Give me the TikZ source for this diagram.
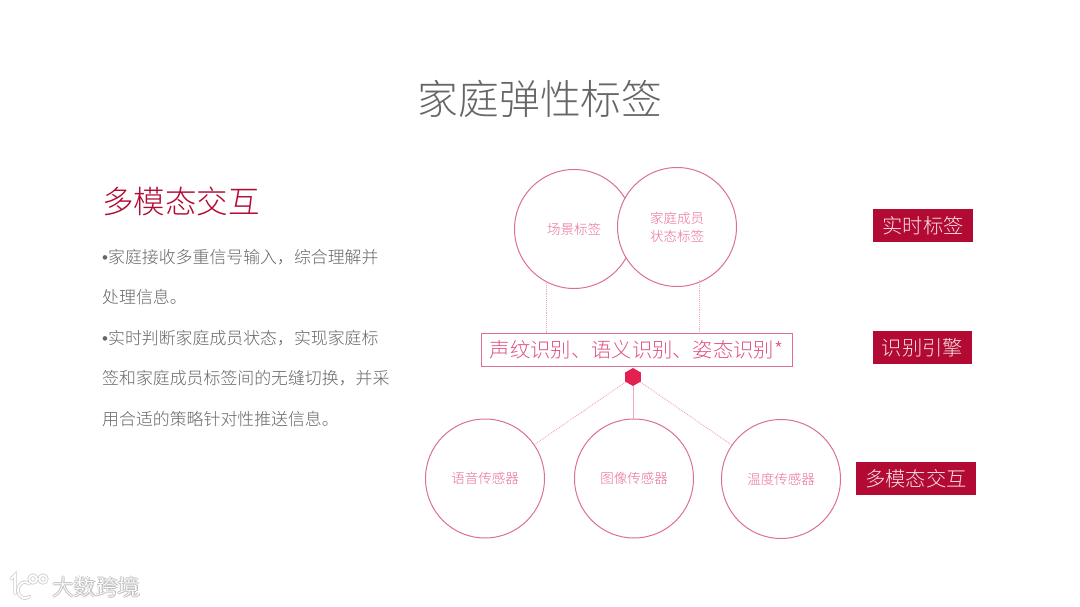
\documentclass[tikz,border=0pt]{standalone}
\usepackage{fontspec}
\setmainfont{Noto Sans CJK SC Light}
\newfontfamily\bulletfont{Liberation Sans}
\usetikzlibrary{shapes.geometric,calc}
\definecolor{crim}{HTML}{B20A33}
\definecolor{ringc}{HTML}{DB7093}
\definecolor{pinkt}{HTML}{EA6F94}
\definecolor{boxt}{HTML}{E0527F}
\definecolor{linkc}{HTML}{EFA8BE}
\definecolor{hexc}{HTML}{E3204F}
\definecolor{greyt}{HTML}{666666}
\definecolor{titlec}{HTML}{666666}
\newcommand{\bul}{{\bulletfont •}}
\tikzset{
 ring/.style={circle,draw=ringc,line width=1pt,fill=white,minimum size=119pt,inner sep=0pt,align=center,text=pinkt,font=\fontsize{13.5}{18}\selectfont},
 tag/.style={rectangle,fill=crim,text=white!88!crim,inner sep=0pt,font=\fontsize{20.3}{24}\selectfont},
 body/.style={anchor=west,inner sep=0pt,text=greyt,font=\fontsize{16.9}{20}\selectfont},
 link/.style={draw=linkc,line width=.9pt,densely dotted},
 solidlink/.style={draw=linkc,line width=1pt}
}
\begin{document}
\begin{tikzpicture}[x=1pt,y=-1pt]
\useasboundingbox (0,0) rectangle (1080,607);
\fill[white] (0,0) rectangle (1080,607);
\node[text=titlec,font=\fontsize{40.8}{48}\selectfont,inner sep=0pt] (title) at (540,98.5) {家庭弹性标签};
\node[anchor=west,inner sep=0pt,text=crim,font=\fontsize{31.5}{38}\selectfont] (head) at (102,201) {多模态交互};
\node[body] (l1) at (102,257) {\bul{}家庭接收多重信号输入，综合理解并};
\node[body] (l2) at (102,297) {处理信息。};
\node[body] (l3) at (102,338) {\bul{}实时判断家庭成员状态，实现家庭标};
\node[body] (l4) at (102,378) {签和家庭成员标签间的无缝切换，并采};
\node[body] (l5) at (102,419) {用合适的策略针对性推送信息。};
% engine box
\node[rectangle,draw=ringc,line width=.9pt,fill=white,minimum width=311pt,minimum height=33pt,inner sep=0pt,text=boxt,font=\fontsize{20.3}{24}\selectfont] (engine) at (636.5,349.5) {声纹识别、语义识别、姿态识别*};
% top circles
\node[ring] (scene) at (574,229) {场景标签};
\node[ring] (member) at (677,227) {家庭成员\\状态标签};
\coordinate (sa) at (546,283);
\coordinate (ma) at (699,280);
\draw[link] (sa) -- (sa |- engine.north);
\draw[link] (ma) -- (ma |- engine.north);
% hexagon
\node[regular polygon,regular polygon sides=6,shape border rotate=30,fill=hexc,minimum size=18pt,inner sep=0pt] (hex) at (633,377) {};
% bottom circles
\node[ring] (voice) at (485,478.5) {语音传感器};
\node[ring] (image) at (634,478.5) {图像传感器};
\node[ring] (temp) at (781,479) {温度传感器};
\draw[link] (hex) -- (voice);
\draw[solidlink] (hex) -- (hex |- image.north);
\draw[link] (hex) -- (temp);
% tags
\node[tag,minimum width=100pt,minimum height=33pt] (t1) at (923,225.5) {实时标签};
\node[tag,minimum width=99pt,minimum height=33pt] (t2) at (922.5,347.5) {识别引擎};
\node[tag,minimum width=120pt,minimum height=33pt] (t3) at (916,478.5) {多模态交互};
% watermark
\foreach \dx/\dy in {-1/0,1/0,0/-1,0/1}{
 \node[inner sep=0pt,text=black!25,font=\fontsize{22}{24}\selectfont] at (96+\dx,587+\dy) {大数跨境};
}
\node[inner sep=0pt,text=white,font=\fontsize{22}{24}\selectfont] (wm) at (96,587) {大数跨境};
\foreach \w/\c in {3.4/black!20,1.8/white}{
 \draw[line width=\w pt,draw=\c,line cap=round] (11,579) -- (15,575) -- (15,594);
 \draw[line width=\w pt,draw=\c,line cap=round] (29.5,584) arc (-50:-310:7 and 8);
 \draw[line width=\w pt,draw=\c] (33,579) circle (3.8);
 \draw[line width=\w pt,draw=\c] (43,579) circle (3.8);
}
\end{tikzpicture}
\end{document}
